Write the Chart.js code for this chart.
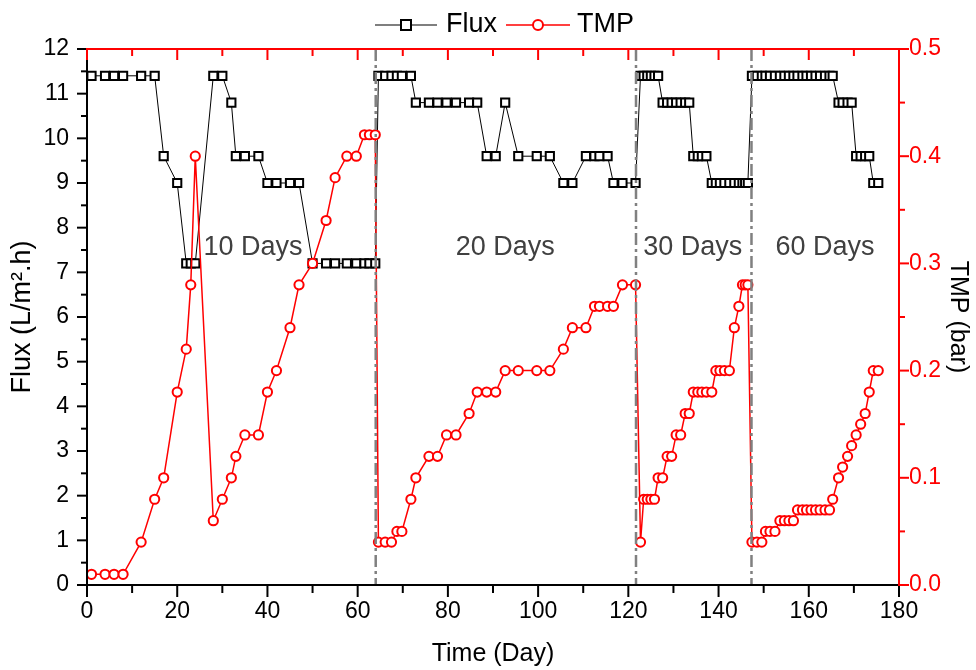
<!DOCTYPE html>
<html>
<head>
<meta charset="utf-8">
<title>Flux / TMP</title>
<script src="https://cdn.jsdelivr.net/npm/chart.js@4.4.1/dist/chart.umd.min.js"></script>
<style>
  html, body { margin: 0; padding: 0; background: #fff; }
  #wrap { width: 976px; height: 670px; }
</style>
</head>
<body>
<div id="wrap"><canvas id="myChart" width="976" height="670"></canvas></div>
<script>
// Datos (día, flux y TMP van juntos por índice)
const days = [
  1, 4, 6, 8, 12, 15, 17, 20, 22, 23, 24, 28, 30, 32, 33, 35, 38, 40, 42, 45, 47, 50, 53, 55, 57.6, 59.7, 61.5, 62.6, 63.9,
  64.6, 66.1, 67.5, 68.7, 69.8, 71.8, 72.9, 75.8, 77.7, 79.7, 81.8, 84.7, 86.5, 88.6, 90.6, 92.7, 95.6, 99.7, 102.6, 105.6, 107.6, 110.6, 112.5, 113.6, 115.4, 116.7, 118.7, 121.6,
  122.7, 123.4, 124.2, 125, 125.8, 126.6, 127.6, 128.6, 129.6, 130.6, 131.6, 132.6, 133.5, 134.4, 135.4, 136.3, 137.3, 138.5, 139.4, 140.3, 141.3, 142.4, 143.5, 144.5, 145.3, 145.9, 146.5,
  147.4, 148.5, 149.6, 150.4, 151.4, 152.5, 153.6, 154.6, 155.6, 156.6, 157.5, 158.6, 159.5, 160.5, 161.5, 162.5, 163.6, 164.6, 165.3, 166.6, 167.5, 168.6, 169.5, 170.5, 171.5, 172.5, 173.4, 174.3, 175.4
];
const flux = [
  11.4, 11.4, 11.4, 11.4, 11.4, 11.4, 9.6, 9.0, 7.2, 7.2, 7.2, 11.4, 11.4, 10.8, 9.6, 9.6, 9.6, 9.0, 9.0, 9.0, 9.0, 7.2, 7.2, 7.2, 7.2, 7.2, 7.2, 7.2, 7.2,
  11.4, 11.4, 11.4, 11.4, 11.4, 11.4, 10.8, 10.8, 10.8, 10.8, 10.8, 10.8, 10.8, 9.6, 9.6, 10.8, 9.6, 9.6, 9.6, 9.0, 9.0, 9.6, 9.6, 9.6, 9.6, 9.0, 9.0, 9.0,
  11.4, 11.4, 11.4, 11.4, 11.4, 11.4, 10.8, 10.8, 10.8, 10.8, 10.8, 10.8, 10.8, 9.6, 9.6, 9.6, 9.6, 9.0, 9.0, 9.0, 9.0, 9.0, 9.0, 9.0, 9.0, 9.0, 9.0,
  11.4, 11.4, 11.4, 11.4, 11.4, 11.4, 11.4, 11.4, 11.4, 11.4, 11.4, 11.4, 11.4, 11.4, 11.4, 11.4, 11.4, 11.4, 11.4, 10.8, 10.8, 10.8, 10.8, 9.6, 9.6, 9.6, 9.6, 9.0, 9.0
];
const tmp = [
  0.01, 0.01, 0.01, 0.01, 0.04, 0.08, 0.10, 0.18, 0.22, 0.28, 0.40, 0.06, 0.08, 0.10, 0.12, 0.14, 0.14, 0.18, 0.20, 0.24, 0.28, 0.30, 0.34, 0.38, 0.40, 0.40, 0.42, 0.42, 0.42,
  0.04, 0.04, 0.04, 0.05, 0.05, 0.08, 0.10, 0.12, 0.12, 0.14, 0.14, 0.16, 0.18, 0.18, 0.18, 0.20, 0.20, 0.20, 0.20, 0.22, 0.24, 0.24, 0.26, 0.26, 0.26, 0.26, 0.28, 0.28,
  0.04, 0.08, 0.08, 0.08, 0.08, 0.10, 0.10, 0.12, 0.12, 0.14, 0.14, 0.16, 0.16, 0.18, 0.18, 0.18, 0.18, 0.18, 0.20, 0.20, 0.20, 0.20, 0.24, 0.26, 0.28, 0.28, 0.28,
  0.04, 0.04, 0.04, 0.05, 0.05, 0.05, 0.06, 0.06, 0.06, 0.06, 0.07, 0.07, 0.07, 0.07, 0.07, 0.07, 0.07, 0.07, 0.08, 0.10, 0.11, 0.12, 0.13, 0.14, 0.15, 0.16, 0.18, 0.20, 0.20
];

// ticks de los ejes
const xTicks = [0, 20, 40, 60, 80, 100, 120, 140, 160, 180];
const fluxTicks = [0, 1, 2, 3, 4, 5, 6, 7, 8, 9, 10, 11, 12];
const tmpTicks = [0, 0.1, 0.2, 0.3, 0.4, 0.5];

// líneas verticales y etiquetas de cada etapa
const dividerDays = [64.0, 121.7, 147.3];
const phaseNames = ['10 Days', '20 Days', '30 Days', '60 Days'];
const phaseDays = [36.8, 92.7, 134.3, 163.6];
const phaseFlux = 7.55;

const fontMain = '"Liberation Sans", Arial, sans-serif';

const fluxPoints = days.map((d, i) => ({ x: d, y: flux[i] }));
const tmpPoints = days.map((d, i) => ({ x: d, y: tmp[i] }));

function line(ctx, x1, y1, x2, y2) {
  ctx.beginPath();
  ctx.moveTo(x1, y1);
  ctx.lineTo(x2, y2);
  ctx.stroke();
}

// marco, ticks menores, divisores, textos y leyenda
const extras = {
  id: 'extras',
  afterDatasetsDraw(chart) {
    const ctx = chart.ctx;
    const a = chart.chartArea;
    const sx = chart.scales.x;
    const sy = chart.scales.y;
    ctx.save();
    ctx.strokeStyle = '#808080';
    ctx.lineWidth = 2.5;
    ctx.setLineDash([12, 4, 3, 4]);
    dividerDays.forEach((d) => {
      const px = sx.getPixelForValue(d);
      line(ctx, px, a.top, px, a.bottom);
    });
    ctx.setLineDash([]);
    ctx.fillStyle = '#404040';
    ctx.font = '27px ' + fontMain;
    ctx.textAlign = 'center';
    ctx.textBaseline = 'middle';
    phaseNames.forEach((t, i) => {
      ctx.fillText(t, sx.getPixelForValue(phaseDays[i]), sy.getPixelForValue(phaseFlux));
    });
    ctx.restore();
  },
  afterDraw(chart) {
    const ctx = chart.ctx;
    const a = chart.chartArea;
    const sx = chart.scales.x;
    const sy = chart.scales.y;
    const sy2 = chart.scales.y2;
    ctx.save();
    ctx.lineWidth = 2;
    ctx.lineCap = 'square';

    // eje izquierdo (negro)
    ctx.strokeStyle = '#000';
    line(ctx, a.left, a.top, a.left, a.bottom);
    for (let k = 0; k <= 24; k++) {
      const py = sy.getPixelForValue(k / 2);
      line(ctx, a.left, py, a.left - (k % 2 === 0 ? 9 : 5), py);
    }
    // eje inferior (negro)
    line(ctx, a.left, a.bottom, a.right, a.bottom);
    for (let k = 0; k <= 18; k++) {
      const px = sx.getPixelForValue(k * 10);
      line(ctx, px, a.bottom, px, a.bottom + (k % 2 === 0 ? 11 : 7));
    }
    // eje derecho y superior (rojo)
    ctx.strokeStyle = '#ff0000';
    line(ctx, a.right, a.top, a.right, a.bottom);
    for (let k = 0; k <= 10; k++) {
      const py = sy2.getPixelForValue(k * 0.05);
      line(ctx, a.right, py, a.right + (k % 2 === 0 ? 9 : 5), py);
    }
    line(ctx, a.left, a.top, a.right, a.top);
    for (let k = 0; k <= 18; k++) {
      const px = sx.getPixelForValue(k * 10);
      line(ctx, px, a.top, px, a.top + (k % 2 === 0 ? 10 : 6));
    }

    // leyenda
    const ly = 25;
    ctx.lineCap = 'butt';
    ctx.strokeStyle = '#555';
    ctx.lineWidth = 1.5;
    line(ctx, 375, ly, 437, ly);
    ctx.fillStyle = '#fff';
    ctx.strokeStyle = '#000';
    ctx.lineWidth = 2;
    ctx.fillRect(401, ly - 5, 10, 10);
    ctx.strokeRect(401, ly - 5, 10, 10);
    ctx.strokeStyle = '#ff0000';
    ctx.lineWidth = 1.5;
    line(ctx, 506, ly, 570, ly);
    ctx.lineWidth = 2;
    ctx.beginPath();
    ctx.arc(538, ly, 5, 0, Math.PI * 2);
    ctx.fill();
    ctx.stroke();
    ctx.fillStyle = '#000';
    ctx.font = '27px ' + fontMain;
    ctx.textAlign = 'left';
    ctx.textBaseline = 'middle';
    ctx.fillText('Flux', 446, ly);
    ctx.fillText('TMP', 577, ly);
    ctx.restore();
  }
};

const data = {
  datasets: [
    {
      label: 'Flux',
      data: fluxPoints,
      yAxisID: 'y',
      borderColor: '#000',
      borderWidth: 1,
      pointStyle: 'rect',
      pointRadius: 5.8,
      pointBorderWidth: 2,
      pointBorderColor: '#000',
      pointBackgroundColor: '#fff',
      order: 2,
    },
    {
      label: 'TMP',
      data: tmpPoints,
      yAxisID: 'y2',
      borderColor: '#ff0000',
      borderWidth: 1.5,
      pointStyle: 'circle',
      pointRadius: 4.6,
      pointBorderWidth: 2,
      pointBorderColor: '#ff0000',
      pointBackgroundColor: '#fff',
      order: 1,
    },
  ],
};

const config = {
  type: 'line',
  data: data,
  plugins: [extras],
  options: {
    responsive: false,
    animation: false,
    devicePixelRatio: 1,
    layout: { padding: { top: 49, left: 0, right: 0, bottom: 0 } },
    plugins: { legend: { display: false }, tooltip: { enabled: false } },
    scales: {
      x: {
        type: 'linear',
        position: 'bottom',
        min: 0,
        max: 180,
        afterBuildTicks: (s) => { s.ticks = xTicks.map((v) => ({ value: v })); },
        afterFit: (s) => { s.height = 85; },
        grid: { display: false, drawTicks: false },
        border: { display: false },
        ticks: { color: '#000', font: { family: fontMain, size: 23 }, padding: 13, maxRotation: 0, autoSkip: false },
        title: { display: true, text: 'Time (Day)', color: '#000', font: { family: fontMain, size: 25 }, padding: { top: 0, bottom: 1 } },
      },
      y: {
        type: 'linear',
        position: 'left',
        min: 0,
        max: 12,
        afterBuildTicks: (s) => { s.ticks = fluxTicks.map((v) => ({ value: v })); },
        afterFit: (s) => { s.width = 87; },
        grid: { display: false, drawTicks: false },
        border: { display: false },
        ticks: { color: '#000', font: { family: fontMain, size: 23 }, padding: 18, autoSkip: false },
        title: { display: true, text: 'Flux (L/m\u00B2.h)', color: '#000', font: { family: fontMain, size: 27 }, padding: { top: 6, bottom: 0 } },
      },
      y2: {
        type: 'linear',
        position: 'right',
        min: 0,
        max: 0.5,
        afterBuildTicks: (s) => { s.ticks = tmpTicks.map((v) => ({ value: v })); },
        afterFit: (s) => { s.width = 77; },
        grid: { display: false, drawTicks: false },
        border: { display: false },
        ticks: { color: '#ff0000', font: { family: fontMain, size: 23 }, padding: 10, autoSkip: false, callback: (v) => Number(v).toFixed(1) },
        title: { display: true, text: 'TMP (bar)', color: '#000', font: { family: fontMain, size: 25 }, padding: { top: 3, bottom: 0 } },
      },
    },
  },
};

let myChart = new Chart(document.querySelector('#myChart'), config);
</script>
</body>
</html>
